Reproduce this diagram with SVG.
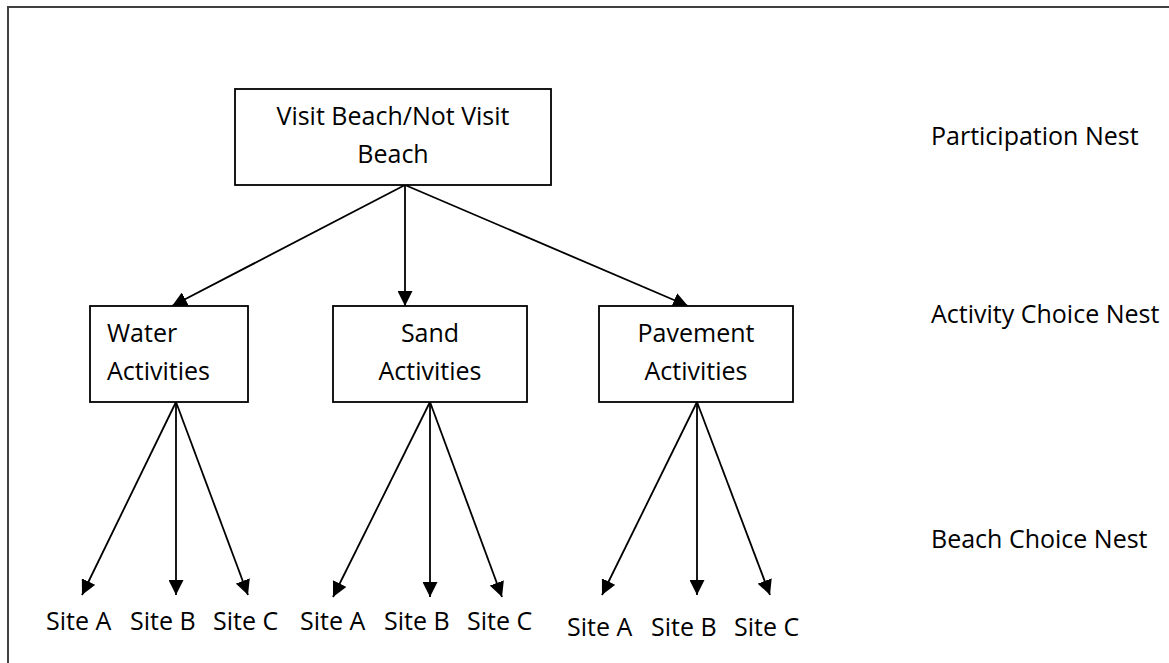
<svg xmlns="http://www.w3.org/2000/svg" width="1169" height="663" viewBox="0 0 1169 663">
<defs>
<marker id="ah" viewBox="0 0 15 15" refX="15" refY="7.5" markerWidth="15" markerHeight="15" markerUnits="userSpaceOnUse" orient="auto">
<path d="M0,0 L15,7.5 L0,15 Z" fill="#000"/>
</marker>
<style>
.box{fill:#fff;stroke:#000;stroke-width:1.8}
.t{font-family:"Open Sans","DejaVu Sans",sans-serif;font-size:25px;fill:#000}
.m{text-anchor:middle}
.c{stroke:#000;stroke-width:1.8;fill:none;marker-end:url(#ah)}
</style>
</defs>
<rect x="0" y="0" width="1169" height="663" fill="#fff"/>
<rect x="8" y="7" width="1200" height="700" fill="none" stroke="#404040" stroke-width="2"/>
<g id="connectors">
<line class="c" x1="405" y1="185" x2="172" y2="306"/>
<line class="c" x1="405" y1="185" x2="405" y2="306"/>
<line class="c" x1="405" y1="185" x2="688" y2="306"/>
<line class="c" x1="176" y1="402" x2="82" y2="595"/>
<line class="c" x1="176" y1="402" x2="176" y2="595"/>
<line class="c" x1="176" y1="402" x2="248" y2="595"/>
<line class="c" x1="430" y1="402" x2="333" y2="597"/>
<line class="c" x1="430" y1="402" x2="430" y2="597"/>
<line class="c" x1="430" y1="402" x2="502" y2="597"/>
<line class="c" x1="697" y1="402" x2="602" y2="595"/>
<line class="c" x1="697" y1="402" x2="697" y2="595"/>
<line class="c" x1="697" y1="402" x2="770" y2="595"/>
</g>
<g id="visit">
<rect class="box" x="235" y="89" width="316" height="96"/>
<text class="t m" x="393" y="125">Visit Beach/Not Visit</text>
<text class="t m" x="393" y="163">Beach</text>
</g>
<g id="water">
<rect class="box" x="90" y="306" width="158" height="96"/>
<text class="t" x="107" y="342">Water</text>
<text class="t" x="107" y="380">Activities</text>
</g>
<g id="sand">
<rect class="box" x="333" y="306" width="194" height="96"/>
<text class="t m" x="430" y="342">Sand</text>
<text class="t m" x="430" y="380">Activities</text>
</g>
<g id="pavement">
<rect class="box" x="599" y="306" width="194" height="96"/>
<text class="t m" x="696" y="342">Pavement</text>
<text class="t m" x="696" y="380">Activities</text>
</g>
<g id="water-sites">
<text class="t" x="46" y="630">Site A</text>
<text class="t" x="130" y="630">Site B</text>
<text class="t" x="213" y="630">Site C</text>
</g>
<g id="sand-sites">
<text class="t" x="300" y="630">Site A</text>
<text class="t" x="384" y="630">Site B</text>
<text class="t" x="467" y="630">Site C</text>
</g>
<g id="pavement-sites">
<text class="t" x="567" y="636">Site A</text>
<text class="t" x="651" y="636">Site B</text>
<text class="t" x="734" y="636">Site C</text>
</g>
<g id="nest-labels">
<text class="t" x="931" y="145">Participation Nest</text>
<text class="t" x="931" y="323">Activity Choice Nest</text>
<text class="t" x="931" y="548">Beach Choice Nest</text>
</g>
</svg>
